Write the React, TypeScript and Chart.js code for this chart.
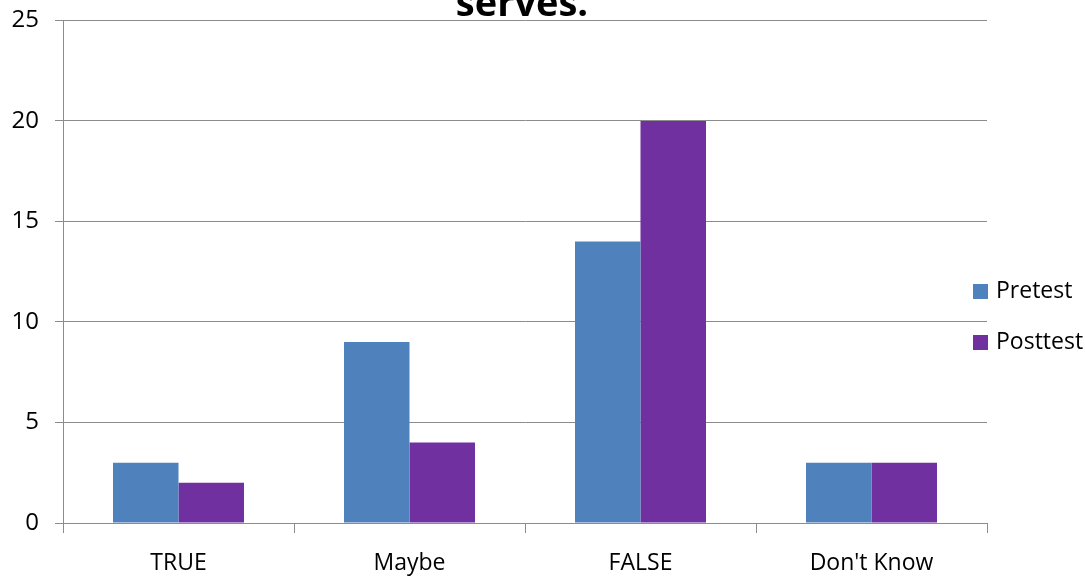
import React, { useEffect, useRef } from "react";
import { Chart, registerables } from "chart.js";

Chart.register(...registerables);

const categories = ["TRUE", "Maybe", "FALSE", "Don't Know"];
const pretest = [3, 9, 14, 3];
const posttest = [2, 4, 20, 3];
const seriesNames = ["Pretest", "Posttest"];
const titleText = "serves.";

const BLUE = "#4F81BD";
const PURPLE = "#7030A0";
const GRID = "#8c8c8c";
const FONT = "'Open Sans', 'DejaVu Sans', sans-serif";
const SHIFT = 10;

const overlayPlugin = {
  id: "overlay",
  afterDraw(chart: any) {
    const ctx = chart.ctx;
    ctx.save();
    // title (only its last line is visible)
    ctx.fillStyle = "#000";
    ctx.font = `bold 38px ${FONT}`;
    ctx.textAlign = "center";
    ctx.textBaseline = "alphabetic";
    ctx.fillText(titleText, 522, 16 + SHIFT);
    // legend
    const colors = [BLUE, PURPLE];
    ctx.font = `23px ${FONT}`;
    ctx.textAlign = "left";
    ctx.textBaseline = "middle";
    seriesNames.forEach((name, i) => {
      const y = 291 + SHIFT + i * 51;
      ctx.fillStyle = colors[i];
      ctx.fillRect(973, y - 7, 15, 15);
      ctx.fillStyle = "#000";
      ctx.fillText(name, 996, y);
    });
    ctx.restore();
  },
};

export default function App() {
  const ref = useRef<HTMLCanvasElement | null>(null);
  useEffect(() => {
    if (!ref.current) return;
    const chart = new Chart(ref.current, {
      type: "bar",
      data: {
        labels: categories,
        datasets: [
          { label: seriesNames[0], data: pretest, backgroundColor: BLUE },
          { label: seriesNames[1], data: posttest, backgroundColor: PURPLE },
        ],
      },
      options: {
        animation: false,
        responsive: false,
        maintainAspectRatio: false,
        datasets: { bar: { categoryPercentage: 0.567, barPercentage: 1 } },
        layout: { padding: { left: 0, right: 98, top: 9, bottom: 0 } },
        plugins: { legend: { display: false }, title: { display: false }, tooltip: { enabled: false } },
        scales: {
          x: {
            grid: {
              offset: true,
              drawOnChartArea: false,
              drawTicks: true,
              tickLength: 10,
              color: GRID,
            },
            border: { display: true, color: GRID },
            ticks: { color: "#000", font: { family: FONT, size: 23 }, padding: 17 },
            afterFit(scale: any) {
              scale.height = 53;
            },
          },
          y: {
            min: 0,
            max: 25,
            ticks: { stepSize: 5, color: "#000", font: { family: FONT, size: 24 }, padding: 16 },
            grid: { color: GRID, tickLength: 8, drawTicks: true },
            border: { display: true, color: GRID },
            afterFit(scale: any) {
              scale.width = 63;
            },
          },
        },
      },
      plugins: [overlayPlugin],
    });
    return () => chart.destroy();
  }, []);
  return (
    <div style={{ position: "fixed", left: 0, top: 0, width: 1085, height: 576, overflow: "hidden", background: "#fff" }}>
      <canvas
        ref={ref}
        width={1085}
        height={576 + SHIFT}
        style={{ position: "absolute", left: 0, top: -SHIFT, width: 1085, height: 576 + SHIFT }}
      />
    </div>
  );
}
